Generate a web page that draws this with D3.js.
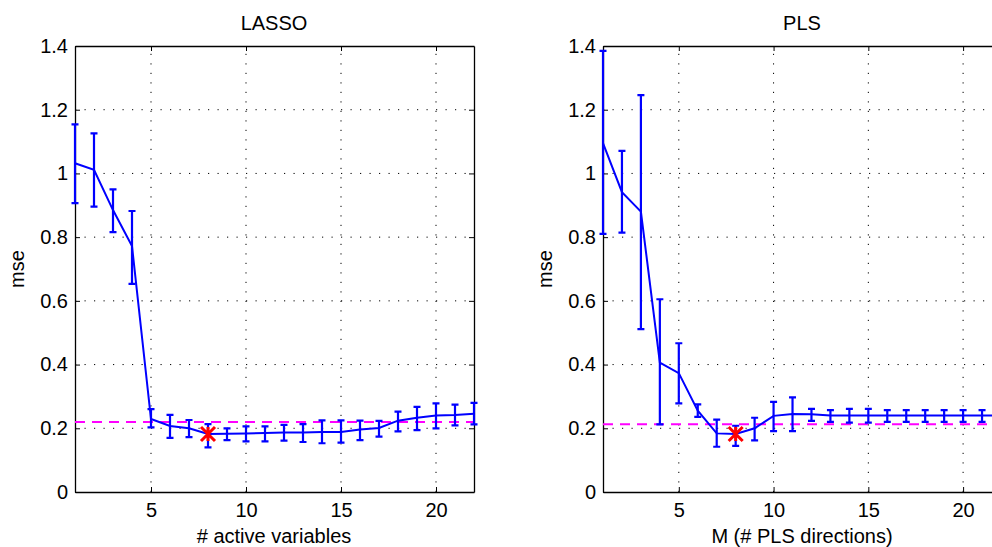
<!DOCTYPE html>
<html>
<head>
<meta charset="utf-8">
<script src="https://cdn.jsdelivr.net/npm/d3@7"></script>
<style>
  body { margin: 0; background: #fff; }
  svg { display: block; font-family: "Liberation Sans", Arial, sans-serif; }
</style>
</head>
<body>
<svg id="chart" width="992" height="547"></svg>
<script>
const steps = d3.range(1, 23)

// LASSO: cv mse, +/- 1 se
const lassoMean = [1.032, 1.011, 0.885, 0.772, 0.229, 0.207, 0.200, 0.182, 0.183, 0.184, 0.185,
  0.187, 0.187, 0.188, 0.188, 0.196, 0.201, 0.224, 0.233, 0.240, 0.242, 0.246]
const lassoHi = [1.154, 1.126, 0.950, 0.882, 0.260, 0.242, 0.226, 0.213, 0.200, 0.206, 0.206,
  0.211, 0.213, 0.225, 0.225, 0.224, 0.223, 0.252, 0.267, 0.278, 0.274, 0.280]
const lassoLo = [0.907, 0.896, 0.816, 0.653, 0.203, 0.170, 0.172, 0.140, 0.163, 0.159, 0.159,
  0.161, 0.157, 0.153, 0.155, 0.163, 0.174, 0.190, 0.194, 0.200, 0.209, 0.212]
const lassoRef = 0.220
const lassoBest = 8

// PLS
const plsMean = [1.095, 0.941, 0.880, 0.406, 0.373, 0.255, 0.184, 0.182, 0.200, 0.239, 0.245,
  0.244, 0.240, 0.240, 0.240, 0.240, 0.240, 0.240, 0.240, 0.240, 0.240, 0.240]
const plsHi = [1.385, 1.071, 1.246, 0.605, 0.467, 0.275, 0.227, 0.208, 0.233, 0.283, 0.297,
  0.261, 0.257, 0.261, 0.261, 0.257, 0.257, 0.257, 0.257, 0.257, 0.257, 0.257]
const plsLo = [0.810, 0.814, 0.511, 0.212, 0.278, 0.236, 0.142, 0.145, 0.162, 0.191, 0.191,
  0.223, 0.220, 0.218, 0.218, 0.220, 0.220, 0.220, 0.220, 0.220, 0.220, 0.220]
const plsRef = 0.213
const plsBest = 8

const yTicks = [0, 0.2, 0.4, 0.6, 0.8, 1, 1.2, 1.4]
const xTicks = [5, 10, 15, 20]

const svg = d3.select('#chart')
const fontSize = 20

function drawPanel (opt) {
  const x = d3.scaleLinear().domain([1, 22]).range([opt.left, opt.right])
  const y = d3.scaleLinear().domain([0, 1.4]).range([492, 46])
  const g = svg.append('g')

  // grid
  g.selectAll('line.gx').data(xTicks).join('line')
    .attr('x1', d => x(d)).attr('x2', d => x(d))
    .attr('y1', y(0)).attr('y2', y(1.4))
    .attr('stroke', '#000').attr('stroke-width', 1)
    .attr('stroke-dasharray', '1.2,8.3')
  g.selectAll('line.gy').data(yTicks.slice(1, -1)).join('line')
    .attr('x1', x(1)).attr('x2', x(22))
    .attr('y1', d => y(d)).attr('y2', d => y(d))
    .attr('stroke', '#000').attr('stroke-width', 1)
    .attr('stroke-dasharray', '1.2,8.3')

  // axes (matlab style inward ticks)
  g.append('g').attr('transform', `translate(0,${y(0)})`)
    .call(d3.axisBottom(x).tickValues(xTicks).tickSizeInner(-5).tickSizeOuter(0).tickPadding(11))
  g.append('g').attr('transform', `translate(0,${y(1.4)})`)
    .call(d3.axisTop(x).tickValues(xTicks).tickSizeInner(-5).tickSizeOuter(0).tickFormat(''))
  g.append('g').attr('transform', `translate(${x(1)},0)`)
    .call(d3.axisLeft(y).tickValues(yTicks).tickSizeInner(-5).tickSizeOuter(0).tickPadding(7)
      .tickFormat(d => d3.format('')(+d.toFixed(1))))
  g.append('g').attr('transform', `translate(${x(22)},0)`)
    .call(d3.axisRight(y).tickValues(yTicks).tickSizeInner(-5).tickSizeOuter(0).tickFormat(''))
  g.selectAll('.domain').attr('stroke', '#000').attr('stroke-width', 1.3)
  g.selectAll('.tick line').attr('stroke', '#000')
  g.selectAll('.tick text').attr('font-size', fontSize).attr('fill', '#000')
    .attr('font-family', '"Liberation Sans", Arial, sans-serif')

  // reference line
  g.append('line')
    .attr('x1', x(1)).attr('x2', x(22))
    .attr('y1', y(opt.ref)).attr('y2', y(opt.ref))
    .attr('stroke', '#ff00ff').attr('stroke-width', 2)
    .attr('stroke-dasharray', '10,7')

  // error bars
  const eb = g.append('g').attr('stroke', '#0000ff').attr('stroke-width', 2.2)
  const cap = 3.5
  eb.append('path')
    .attr('fill', 'none')
    .attr('d', steps.map((s, i) => {
      const cx = x(s)
      return `M ${cx} ${y(opt.lo[i])} L ${cx} ${y(opt.hi[i])} ` +
        `M ${cx - cap} ${y(opt.lo[i])} L ${cx + cap} ${y(opt.lo[i])} ` +
        `M ${cx - cap} ${y(opt.hi[i])} L ${cx + cap} ${y(opt.hi[i])}`
    }).join(' '))

  g.append('path')
    .datum(opt.mean)
    .attr('fill', 'none')
    .attr('stroke', '#0000ff').attr('stroke-width', 2)
    .attr('d', d3.line().x((d, i) => x(steps[i])).y(d => y(d)))

  // best marker
  const bx = x(opt.best)
  const by = y(opt.mean[opt.best - 1])
  const r = 7
  g.append('path')
    .attr('stroke', '#ff0000').attr('stroke-width', 3).attr('fill', 'none')
    .attr('d', `M ${bx - r} ${by - r} L ${bx + r} ${by + r} M ${bx - r} ${by + r} L ${bx + r} ${by - r} M ${bx} ${by - r} L ${bx} ${by + r}`)

  // labels
  g.append('text').attr('x', opt.titleX).attr('y', 30)
    .attr('text-anchor', 'middle').attr('font-size', fontSize).text(opt.title)
  g.append('text').attr('x', opt.xlabelX).attr('y', 543)
    .attr('text-anchor', 'middle').attr('font-size', fontSize).text(opt.xlabel)
  g.append('text')
    .attr('transform', `translate(${opt.left - 51},${y(0.7)}) rotate(-90)`)
    .attr('text-anchor', 'middle').attr('font-size', fontSize).text('mse')
}

drawPanel({
  left: 75, right: 474, title: 'LASSO', titleX: 274, xlabel: '# active variables', xlabelX: 274,
  mean: lassoMean, hi: lassoHi, lo: lassoLo, ref: lassoRef, best: lassoBest
})
drawPanel({
  left: 603, right: 1001, title: 'PLS', titleX: 802, xlabel: 'M (# PLS directions)', xlabelX: 802,
  mean: plsMean, hi: plsHi, lo: plsLo, ref: plsRef, best: plsBest
})
</script>
</body>
</html>
